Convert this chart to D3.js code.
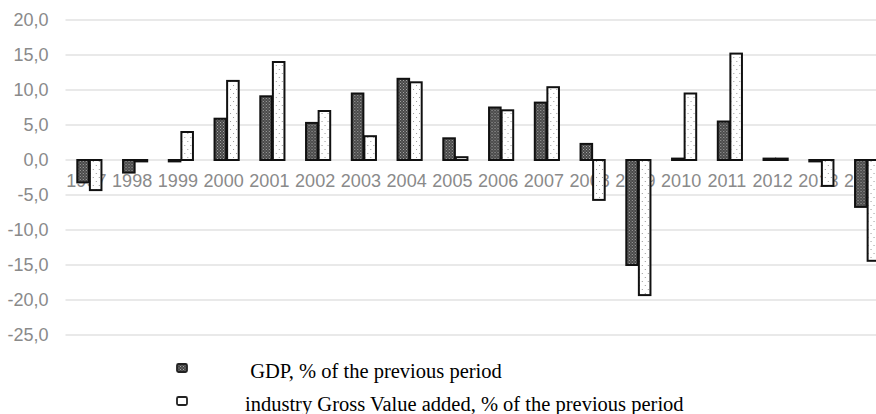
<!DOCTYPE html>
<html>
<head>
<meta charset="utf-8">
<script src="https://cdn.jsdelivr.net/npm/d3@7"></script>
<style>
  body { margin: 0; background: #fff; }
  svg { display: block; }
</style>
</head>
<body>
<div id="chart"></div>
<script>
let years = ["1997","1998","1999","2000","2001","2002","2003","2004","2005","2006","2007","2008","2009","2010","2011","2012","2013","2014"];
let gdp = [-3.2,-1.8,-0.2,5.9,9.1,5.3,9.5,11.6,3.1,7.5,8.2,2.3,-15.0,0.2,5.5,0.2,-0.2,-6.7];
let igva = [-4.3,-0.2,4.0,11.3,14.0,7.0,3.4,11.1,0.4,7.1,10.4,-5.7,-19.3,9.5,15.2,0.2,-3.7,-14.4];
let yTicks = [20,15,10,5,0,-5,-10,-15,-20,-25];
let seriesNames = [" GDP, % of the previous period", "industry Gross Value added, % of the previous period"];

function getConfig(){
    let width = 876;
    let height = 414;
    let margin = { top: 20, left: 66.5, bottom: 79 };
    let bodyWidth = 18 * 45.75;
    let bodyHeight = height - margin.top - margin.bottom;
    let svg = d3.select("#chart")
                .append("svg")
                .attr("width", width)
                .attr("height", height);
    let container = svg.append("g")
                .attr("transform", "translate(" + [margin.left, margin.top] + ")");
    return { width, height, margin, bodyWidth, bodyHeight, svg, container };
}

function makePatterns(svg){
    let defs = svg.append("defs");
    let dark = defs.append("pattern")
        .attr("id", "darkFill")
        .attr("patternUnits", "userSpaceOnUse")
        .attr("width", 3).attr("height", 3);
    dark.append("rect").attr("width", 3).attr("height", 3).attr("fill", "#464646");
    dark.append("rect").attr("x", 0).attr("y", 0).attr("width", 1).attr("height", 1).attr("fill", "#a8a8a8");
    dark.append("rect").attr("x", 1.5).attr("y", 1.5).attr("width", 1).attr("height", 1).attr("fill", "#989898");

    let light = defs.append("pattern")
        .attr("id", "lightFill")
        .attr("patternUnits", "userSpaceOnUse")
        .attr("width", 6).attr("height", 8);
    light.append("rect").attr("width", 6).attr("height", 8).attr("fill", "#fff");
    light.append("rect").attr("x", 1).attr("y", 1).attr("width", 1).attr("height", 1).attr("fill", "#999");
    light.append("rect").attr("x", 4).attr("y", 5).attr("width", 1).attr("height", 1).attr("fill", "#999");
}

function getScales(config){
    let { bodyWidth, bodyHeight } = config;
    let xScale = d3.scaleBand()
        .domain(years)
        .range([0, bodyWidth])
        .paddingInner(0.45)
        .paddingOuter(0.225);
    let sub = d3.scaleBand()
        .domain(["gdp", "igva"])
        .range([0, xScale.bandwidth()]);
    let yScale = d3.scaleLinear()
        .domain([-25, 20])
        .range([bodyHeight, 0]);
    return { xScale, sub, yScale };
}

function drawChart(config, scales){
    let { container, width, margin } = config;
    let { xScale, sub, yScale } = scales;
    let fmt = d => d3.format(".1f")(d).replace(".", ",").replace("−", "-");

    // grid
    container.append("g")
        .selectAll("line")
        .data(yTicks)
        .join("line")
        .attr("x1", -1)
        .attr("x2", width - margin.left)
        .attr("y1", d => yScale(d))
        .attr("y2", d => yScale(d))
        .style("stroke", "#e2e2e2")
        .style("stroke-width", 1.5);

    let axisY = d3.axisLeft(yScale).tickValues(yTicks).tickFormat(fmt).tickSize(0).tickPadding(18);
    let gy = container.append("g").call(axisY);
    gy.select(".domain").remove();
    gy.selectAll("text")
        .style("font-family", "'Liberation Sans', Arial, sans-serif")
        .style("font-size", "18px")
        .style("fill", "#8a8a8a");

    // category labels sit under zero line, bars painted over them
    let axisX = d3.axisBottom(xScale).tickSize(0).tickPadding(14);
    let gx = container.append("g")
        .attr("transform", "translate(-3," + yScale(0) + ")")
        .call(axisX);
    gx.select(".domain").remove();
    gx.selectAll("text")
        .style("font-family", "'Liberation Sans', Arial, sans-serif")
        .style("font-size", "18px")
        .style("fill", "#8a8a8a");

    let rows = years.map((y, i) => ({ year: y, gdp: gdp[i], igva: igva[i] }));
    let groups = container.append("g")
        .selectAll("g")
        .data(rows)
        .join("g")
        .attr("transform", d => "translate(" + xScale(d.year) + ",0)");

    groups.selectAll("rect")
        .data(d => [{ key: "gdp", v: d.gdp }, { key: "igva", v: d.igva }])
        .join("rect")
        .attr("x", d => sub(d.key) + 0.5)
        .attr("width", sub.bandwidth() - 1)
        .attr("y", d => Math.min(yScale(d.v), yScale(0)))
        .attr("height", d => Math.abs(yScale(d.v) - yScale(0)))
        .attr("fill", d => d.key == "gdp" ? "url(#darkFill)" : "url(#lightFill)")
        .style("stroke", "#111")
        .style("stroke-width", 2);
}

function legend(config){
    let { svg } = config;
    let lg = svg.append("g");
    let items = [
        { name: seriesNames[0], fill: "url(#darkFill)", y: 364 },
        { name: seriesNames[1], fill: "#fff", y: 397 }
    ];
    items.forEach(it => {
        lg.append("rect")
            .attr("x", 177)
            .attr("y", it.y)
            .attr("width", 10)
            .attr("height", 8)
            .attr("rx", 1.5)
            .attr("fill", it.fill)
            .style("stroke", "#222")
            .style("stroke-width", 1.8);
        lg.append("text")
            .attr("x", 245)
            .attr("y", it.y + 14)
            .attr("xml:space", "preserve")
            .style("white-space", "pre")
            .style("font-family", "'Liberation Serif', 'Times New Roman', serif")
            .style("font-size", "20.5px")
            .style("fill", "#000")
            .text(it.name);
    });
}

let config = getConfig();
makePatterns(config.svg);
let scales = getScales(config);
drawChart(config, scales);
legend(config);
</script>
</body>
</html>
